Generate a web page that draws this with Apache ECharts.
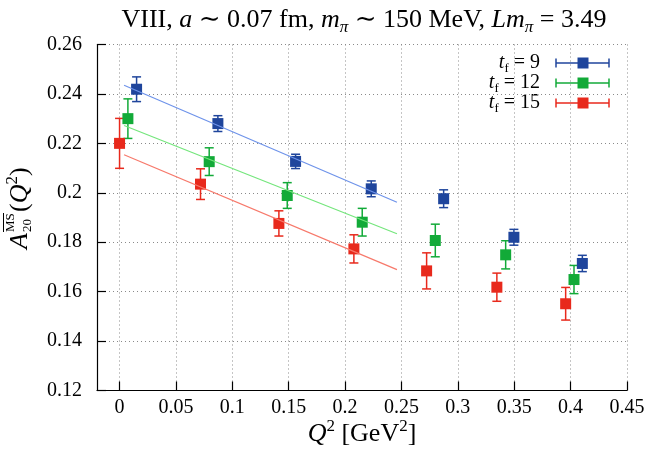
<!DOCTYPE html>
<html>
<head>
<meta charset="utf-8">
<script src="https://cdn.jsdelivr.net/npm/echarts@6/dist/echarts.min.js"></script>
<style>
  html, body { margin: 0; padding: 0; background: #ffffff; }
  #chart { width: 659px; height: 452px; }
</style>
</head>
<body>
<div id="chart"></div>
<script>
// Axis ticks
const xTicks = [0, 0.05, 0.1, 0.15, 0.2, 0.25, 0.3, 0.35, 0.4, 0.45];

// t_f = 9
const q2Tf9  = [0.0151, 0.0872, 0.1561, 0.2232, 0.2874, 0.3497, 0.4104];
const aTf9   = [0.2419, 0.2280, 0.2127, 0.2016, 0.1976, 0.1820, 0.1714];
const errTf9 = [0.0050, 0.0032, 0.0029, 0.0032, 0.0036, 0.0032, 0.0033];

// t_f = 12
const q2Tf12  = [0.0074, 0.0795, 0.1487, 0.2152, 0.2800, 0.3424, 0.4030];
const aTf12   = [0.2300, 0.2126, 0.1989, 0.1881, 0.1807, 0.1749, 0.1649];
const errTf12 = [0.0080, 0.0056, 0.0052, 0.0056, 0.0066, 0.0057, 0.0057];

// t_f = 15
const q2Tf15  = [0.0000, 0.0718, 0.1413, 0.2078, 0.2723, 0.3346, 0.3956];
const aTf15   = [0.2200, 0.2035, 0.1876, 0.1773, 0.1684, 0.1618, 0.1551];
const errTf15 = [0.0101, 0.0062, 0.0051, 0.0057, 0.0073, 0.0057, 0.0066];

// Linear fits over the low-Q^2 range (end points)
const fitQ2    = [0.004, 0.246];
const fitTf9   = [0.2435, 0.1962];
const fitTf12  = [0.2272, 0.1834];
const fitTf15  = [0.2154, 0.1689];

const SERIF = "'Liberation Serif', 'DejaVu Serif', serif";
const COL = {
  tf9:  { mark: '#1f459c', fit: '#6e93ea' },
  tf12: { mark: '#12aa38', fit: '#74e67c' },
  tf15: { mark: '#e8291c', fit: '#f7796b' }
};

function errorBars(name, q2, a, err, color) {
  return {
    type: 'custom',
    name: name,
    data: q2.map((q, i) => [q, a[i] - err[i], a[i] + err[i]]),
    encode: { x: 0, y: [1, 2] },
    z: 2,
    silent: true,
    renderItem: function (params, api) {
      const x = api.value(0);
      const lo = api.coord([x, api.value(1)]);
      const hi = api.coord([x, api.value(2)]);
      const hw = 4.5;
      const style = { stroke: color, lineWidth: 1.5, fill: null };
      return {
        type: 'group',
        children: [
          { type: 'line', shape: { x1: lo[0], y1: lo[1], x2: hi[0], y2: hi[1] }, style: style },
          { type: 'line', shape: { x1: lo[0] - hw, y1: lo[1], x2: lo[0] + hw, y2: lo[1] }, style: style },
          { type: 'line', shape: { x1: hi[0] - hw, y1: hi[1], x2: hi[0] + hw, y2: hi[1] }, style: style }
        ]
      };
    }
  };
}

function markers(name, q2, a, color) {
  return {
    type: 'scatter',
    name: name,
    data: q2.map((q, i) => [q, a[i]]),
    symbol: 'rect',
    symbolSize: 11,
    itemStyle: { color: color, opacity: 1 },
    z: 3,
    silent: true
  };
}

function fitLine(name, vals, color) {
  return {
    type: 'line',
    name: name,
    data: fitQ2.map((q, i) => [q, vals[i]]),
    symbol: 'none',
    lineStyle: { color: color, width: 1.2 },
    z: 4,
    silent: true
  };
}

// Legend entry: label on the left, error-bar sample on the right
function legendEntry(label, y, color) {
  const x0 = 556, x1 = 609, xc = 583;
  return [
    {
      type: 'text',
      style: {
        x: 540, y: y, text: label, align: 'right', verticalAlign: 'middle',
        fontFamily: SERIF, fontSize: 20, lineHeight: 24, fill: '#000',
        rich: {
          i: { fontFamily: SERIF, fontSize: 20, fontStyle: 'italic', lineHeight: 24 },
          s: { fontFamily: SERIF, fontSize: 13, lineHeight: 14, verticalAlign: 'bottom' }
        }
      }
    },
    { type: 'line', shape: { x1: x0, y1: y, x2: x1, y2: y }, style: { stroke: color, lineWidth: 1.5 } },
    { type: 'line', shape: { x1: x0, y1: y - 4.5, x2: x0, y2: y + 4.5 }, style: { stroke: color, lineWidth: 1.5 } },
    { type: 'line', shape: { x1: x1, y1: y - 4.5, x2: x1, y2: y + 4.5 }, style: { stroke: color, lineWidth: 1.5 } },
    { type: 'rect', shape: { x: xc - 5.5, y: y - 5.5, width: 11, height: 11 }, style: { fill: color } }
  ];
}

const chart = echarts.init(document.getElementById('chart'), null, { renderer: 'canvas' });

const option = {
  backgroundColor: '#ffffff',
  animation: false,
  grid: { left: 97, right: 32, top: 44.5, bottom: 61.5, containLabel: false },
  xAxis: {
    type: 'value',
    min: -0.02,
    max: 0.45,
    axisLine: { show: true, onZero: false, lineStyle: { color: '#000', width: 1.2 } },
    axisTick: { show: true, inside: true, length: 9, customValues: xTicks, lineStyle: { color: '#000', width: 1.2 } },
    axisLabel: { customValues: xTicks, color: '#000', fontFamily: SERIF, fontSize: 20, margin: 7 },
    splitLine: { show: true, lineStyle: { color: '#8a8a8a', width: 1, type: [1, 3] } }
  },
  yAxis: {
    type: 'value',
    min: 0.12,
    max: 0.26,
    interval: 0.02,
    axisLine: { show: true, onZero: false, lineStyle: { color: '#000', width: 1.2 } },
    axisTick: { show: true, inside: true, length: 9, lineStyle: { color: '#000', width: 1.2 } },
    axisLabel: { color: '#000', fontFamily: SERIF, fontSize: 20, margin: 15 },
    splitLine: { show: true, lineStyle: { color: '#8a8a8a', width: 1, type: [1, 3] } }
  },
  series: [
    errorBars('tf9', q2Tf9, aTf9, errTf9, COL.tf9.mark),
    errorBars('tf12', q2Tf12, aTf12, errTf12, COL.tf12.mark),
    errorBars('tf15', q2Tf15, aTf15, errTf15, COL.tf15.mark),
    markers('tf9', q2Tf9, aTf9, COL.tf9.mark),
    markers('tf12', q2Tf12, aTf12, COL.tf12.mark),
    markers('tf15', q2Tf15, aTf15, COL.tf15.mark),
    fitLine('fit9', fitTf9, COL.tf9.fit),
    fitLine('fit12', fitTf12, COL.tf12.fit),
    fitLine('fit15', fitTf15, COL.tf15.fit)
  ],
  graphic: [
    // Title
    {
      type: 'text',
      style: {
        x: 364, y: 20, align: 'center', verticalAlign: 'middle',
        text: 'VIII, {i|a} ∼ 0.07 fm, {i|m}{s|π} ∼ 150 MeV, {i|Lm}{s|π} = 3.49',
        fontFamily: SERIF, fontSize: 26, lineHeight: 32, fill: '#000',
        rich: {
          i: { fontFamily: SERIF, fontSize: 26, fontStyle: 'italic', lineHeight: 32 },
          s: { fontFamily: SERIF, fontSize: 17, fontStyle: 'italic', lineHeight: 20, verticalAlign: 'bottom' }
        }
      }
    },
    // x-axis name
    {
      type: 'text',
      style: {
        x: 362, y: 434, align: 'center', verticalAlign: 'middle',
        text: '{i|Q}{p|2} [GeV{p|2}]',
        fontFamily: SERIF, fontSize: 26, lineHeight: 32, fill: '#000',
        rich: {
          i: { fontFamily: SERIF, fontSize: 26, fontStyle: 'italic', lineHeight: 32 },
          p: { fontFamily: SERIF, fontSize: 17, lineHeight: 20, verticalAlign: 'top' }
        }
      }
    },
    // y-axis name, rotated to read bottom-to-top
    {
      type: 'group',
      x: 20, y: 249,
      rotation: Math.PI / 2,
      children: [
        { type: 'text', style: { x: 0, y: 0, text: 'A', align: 'left', verticalAlign: 'middle', fontFamily: SERIF, fontSize: 26, fontStyle: 'italic', fill: '#000' } },
        { type: 'text', style: { x: 17, y: -9, text: 'MS', align: 'left', verticalAlign: 'middle', fontFamily: SERIF, fontSize: 13, fill: '#000' } },
        { type: 'line', shape: { x1: 17, y1: -16.5, x2: 36, y2: -16.5 }, style: { stroke: '#000', lineWidth: 1 } },
        { type: 'text', style: { x: 17, y: 8, text: '20', align: 'left', verticalAlign: 'middle', fontFamily: SERIF, fontSize: 13, fill: '#000' } },
        {
          type: 'text',
          style: {
            x: 37, y: 0, text: '({i|Q}{p|2})', align: 'left', verticalAlign: 'middle',
            fontFamily: SERIF, fontSize: 26, lineHeight: 32, fill: '#000',
            rich: {
              i: { fontFamily: SERIF, fontSize: 26, fontStyle: 'italic', lineHeight: 32 },
              p: { fontFamily: SERIF, fontSize: 17, lineHeight: 20, verticalAlign: 'top' }
            }
          }
        }
      ]
    }
  ].concat(
    legendEntry('{i|t}{s|f} = 9', 63, COL.tf9.mark),
    legendEntry('{i|t}{s|f} = 12', 83, COL.tf12.mark),
    legendEntry('{i|t}{s|f} = 15', 103, COL.tf15.mark)
  )
};

chart.setOption(option);
</script>
</body>
</html>
